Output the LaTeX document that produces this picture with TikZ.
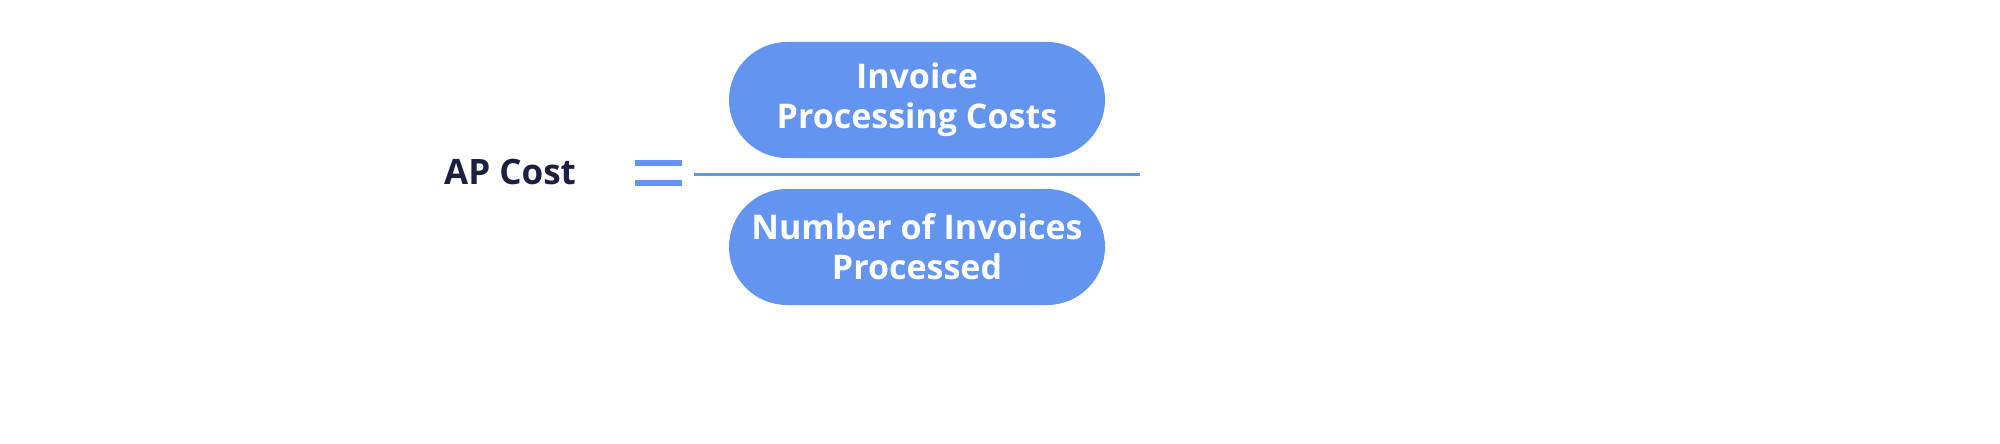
\documentclass[tikz,border=0pt]{standalone}
\usepackage{fontspec}
\setmainfont{Open Sans}
\definecolor{pillblue}{HTML}{6294F0}
\definecolor{navy}{HTML}{1C1F3F}
\begin{document}
\begin{tikzpicture}[x=1pt,y=-1pt,
  pill/.style={fill=pillblue,draw=none,rounded corners=58pt},
  ptext/.style={text=white,align=center,font=\fontsize{34}{40}\selectfont\bfseries},
  bar/.style={fill=pillblue,draw=none}]
\useasboundingbox (0,0) rectangle (2000,444);
\node[text=navy,font=\fontsize{35}{40}\selectfont\bfseries] (lhs) at (510,172) {AP Cost};
\fill[bar] (635,160) rectangle (682,166);
\fill[bar] (635,180) rectangle (682,186);
\coordinate (fl) at (694,174);
\coordinate (fr) at (1140,174);
\draw[pillblue,line width=3pt] (fl) -- (fr);
\fill[pill] (729,42) rectangle (1105,158);
\fill[pill] (729,189) rectangle (1105,305);
\node[ptext] (num) at (917,100) {Invoice\\Processing Costs};
\node[ptext] (den) at (917,247) {Number of Invoices\\Processed};
\end{tikzpicture}
\end{document}
